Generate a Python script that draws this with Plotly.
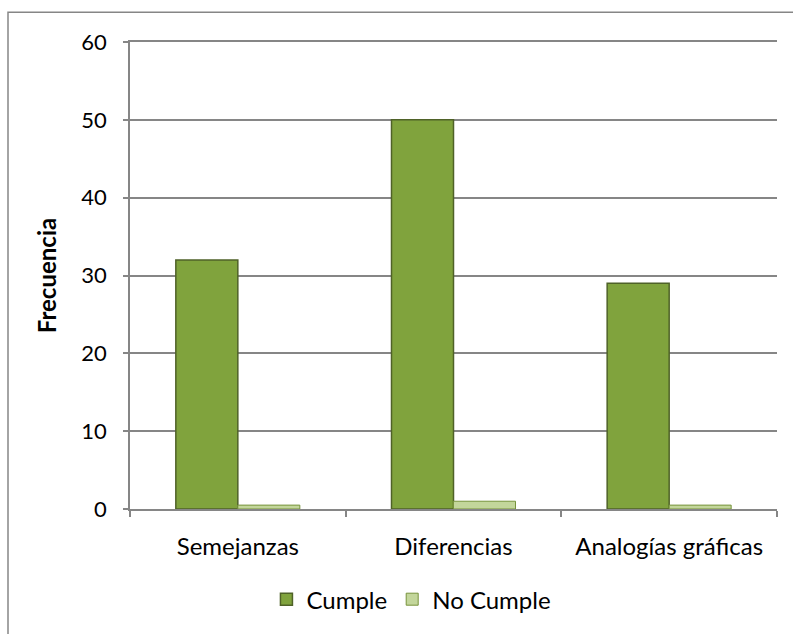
import plotly.graph_objects as go

# Frequency of students meeting each criterion
categorias = ["Semejanzas", "Diferencias", "Analogías gráficas"]
cumple = [32, 50, 29]
no_cumple = [0.5, 1, 0.5]
ticks_y = [0, 10, 20, 30, 40, 50, 60]

FONT = "Lato"
FS = 22
FS_CAT = 24
GRID = "#868686"

fig = go.Figure()
fig.add_trace(go.Bar(
    name="Cumple", x=categorias, y=cumple,
    marker=dict(color="#80a33d", line=dict(color="#4f6228", width=1.5)),
))
fig.add_trace(go.Bar(
    name="No Cumple", x=categorias, y=no_cumple,
    marker=dict(color="#c3d69b", line=dict(color="#77933c", width=1)),
))

fig.update_layout(
    width=793, height=634,
    margin=dict(l=130, r=16, t=42, b=122),
    paper_bgcolor="white", plot_bgcolor="white",
    barmode="group", bargap=0.425, bargroupgap=0,
    font=dict(family=FONT, size=FS, color="#000000"),
    showlegend=True,
    legend=dict(orientation="h", x=0.435, y=-0.194, xanchor="center", yanchor="middle",
                font=dict(family=FONT, size=FS_CAT), itemwidth=30, traceorder="normal"),
    xaxis=dict(
        showgrid=False, showline=True, linecolor=GRID, linewidth=1.5, mirror=True,
        ticks="outside", ticklen=6, tickcolor=GRID, tickwidth=1.5,
        tickson="boundaries", tickfont=dict(family=FONT, size=FS_CAT),
        ticklabelstandoff=15,
    ),
    yaxis=dict(
        range=[0, 60], tickvals=ticks_y, showgrid=True, gridcolor=GRID, gridwidth=1.5,
        showline=True, linecolor=GRID, linewidth=1.5, zeroline=False,
        ticks="outside", ticklen=5, tickcolor=GRID, tickwidth=1.5,
        tickfont=dict(family=FONT, size=FS), ticklabelstandoff=12,
        title=dict(text="<b>Frecuencia</b>", font=dict(family=FONT, size=24), standoff=18),
    ),
    shapes=[dict(
        type="rect", xref="paper", yref="paper",
        x0=(8 - 130) / 647, x1=(820 - 130) / 647,
        y0=(512 - 660) / 470, y1=(512 - 12) / 470,
        line=dict(color=GRID, width=1.5), fillcolor="rgba(0,0,0,0)", layer="below",
    )],
)

fig.write_html("out.html")
